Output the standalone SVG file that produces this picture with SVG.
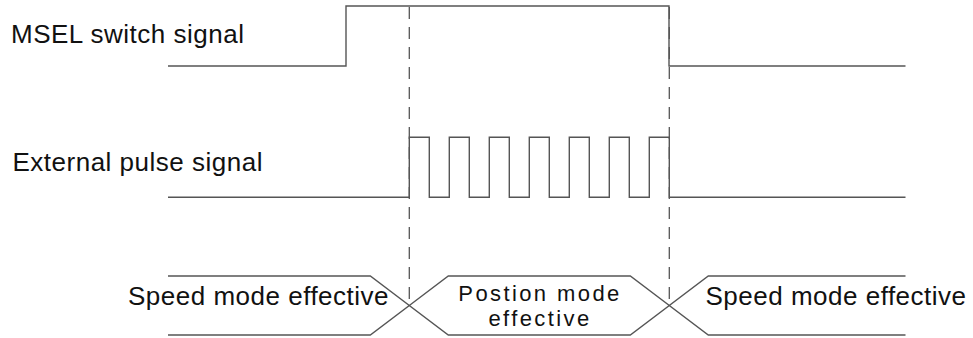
<svg xmlns="http://www.w3.org/2000/svg" width="973" height="338" viewBox="0 0 973 338">
<style>
.sig{fill:none;stroke:#555;stroke-width:1.4;stroke-linejoin:miter}
.dash{fill:none;stroke:#555;stroke-width:1.3;stroke-dasharray:12 8}
.lbl{font-family:"Liberation Sans",Arial,sans-serif;font-size:26px;letter-spacing:0.5px;fill:#111}
.lbl2{font-family:"Liberation Sans",Arial,sans-serif;font-size:22px;letter-spacing:2.4px;fill:#111;text-anchor:middle}
</style>
<rect width="973" height="338" fill="#fff"/>
<g id="msel">
<path class="sig" d="M168,66 H346 V6 H669 V66 H905.5"/>
<text class="lbl" x="11" y="43">MSEL switch signal</text>
</g>
<g id="pulse">
<path class="sig" d="M168,197.3 H409.3 V137.3 H429.3 V197.3 H449.3 V137.3 H469.3 V197.3 H489.3 V137.3 H509.3 V197.3 H529.3 V137.3 H549.3 V197.3 H569.3 V137.3 H589.3 V197.3 H609.3 V137.3 H629.3 V197.3 H649.3 V137.3 H669.3 V197.3 H905.5"/>
<text class="lbl" x="12.5" y="171">External pulse signal</text>
</g>
<g id="connectors">
<path class="dash" d="M409.3,7 V305.5"/>
<path class="dash" d="M669.3,7 V305.5"/>
</g>
<g id="speed-left">
<path class="sig" d="M168,276 H370.3 L409.3,305.5 L370.3,335 H168"/>
<text class="lbl" x="128" y="305">Speed mode effective</text>
</g>
<g id="position">
<path class="sig" d="M409.3,305.5 L448.3,276 H630.3 L669.3,305.5 L630.3,335 H448.3 Z"/>
<text class="lbl2" x="540" y="301">Postion mode</text>
<text class="lbl2" x="540" y="326">effective</text>
</g>
<g id="speed-right">
<path class="sig" d="M905.5,276 H708.3 L669.3,305.5 L708.3,335 H905.5"/>
<text class="lbl" x="705.5" y="305">Speed mode effective</text>
</g>
</svg>
